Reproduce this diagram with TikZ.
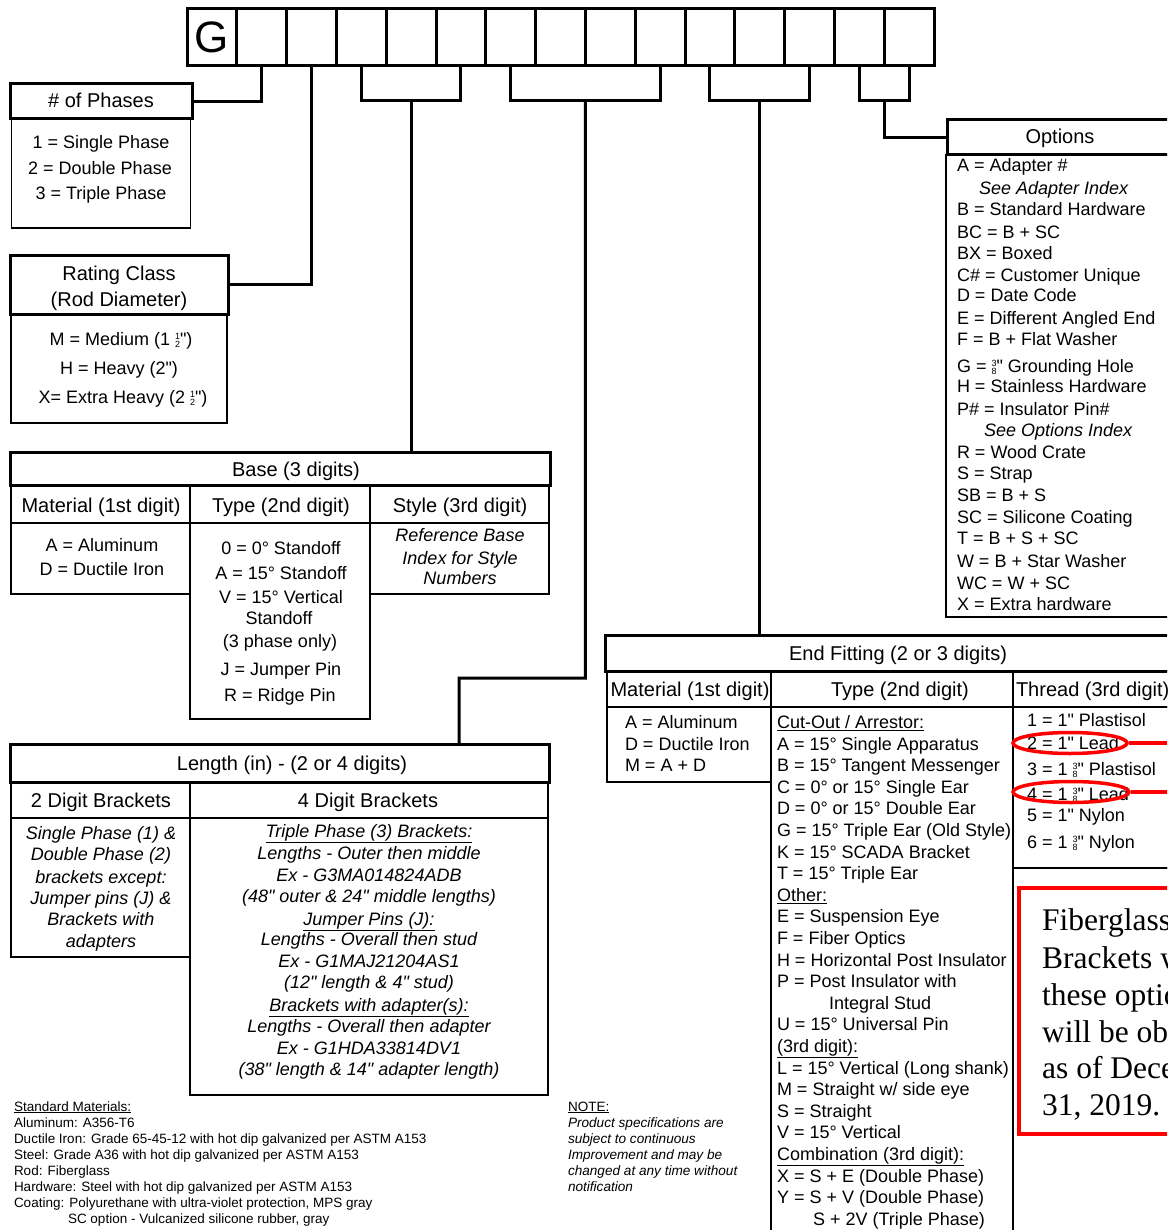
\documentclass[tikz,border=0pt]{standalone}
\usepackage{fontspec}
\setmainfont{Liberation Sans}[Ligatures=TeXOff]
\newfontfamily\serifnt{Liberation Serif}[Ligatures=TeXOff]
\usetikzlibrary{shapes.geometric}
\newcommand\fsz[1]{\fontsize{#1}{#1}\selectfont}
\newcommand\stfr[2]{\raisebox{-1.5pt}{\vbox{\fsz{9}\baselineskip=7.6pt\halign{\hfil##\hfil\cr#1\cr#2\cr}}}}
\begin{document}
\begin{tikzpicture}[x=1pt,y=-1pt,
  bx/.style={draw,rectangle,inner sep=0pt,outer sep=0pt,anchor=north west},
  hdr/.style={bx,line width=3pt},
  cbx/.style={bx,line width=1.4pt},
  cell/.style={bx,line width=3pt,minimum width=49.8pt,minimum height=57.4pt},
  conn/.style={line width=3pt},
  tc/.style={inner sep=0pt,outer sep=0pt,anchor=base,font=\fsz{18}},
  tci/.style={tc,font=\fsz{18}\itshape},
  tl/.style={inner sep=0pt,outer sep=0pt,anchor=base west,font=\fsz{18}},
  tli/.style={tl,font=\fsz{18}\itshape},
  th/.style={inner sep=0pt,outer sep=0pt,anchor=base,font=\fsz{20}},
  thl/.style={th,anchor=base west},
  tf/.style={inner sep=0pt,outer sep=0pt,anchor=base west,font=\fsz{13.5}},
  tfi/.style={tf,font=\fsz{13.6}\itshape},
  redl/.style={draw=red,line width=3.5pt},
  rtx/.style={inner sep=0pt,anchor=base west,font=\serifnt\fsz{31.5}},
]
\useasboundingbox (0,0) rectangle (1167,1230);
\clip (0,0) rectangle (1167,1230);

% ---------- code cells ----------
\foreach \i in {1,...,15}{\node[cell] (c\i) at ({187+(\i-1)*49.8},8.3) {};}
\node[inner sep=0pt,font=\fsz{44}] (gl) at (c1.center) {G};

% ---------- # of phases ----------
\node[cbx,minimum width=179pt,minimum height=109pt] (phc) at (11.5,119) {};
\node[hdr,minimum width=182pt,minimum height=35pt] (ph) at (10,84) {};
\draw[conn] (c2.south) |- (ph.east);
\node[th] (pht) at (101,108) {\# of Phases};
\node[tc] (ph1) at (101,148.5) {1 = Single Phase};
\node[tc] (ph2) at (100,174.5) {2 = Double Phase};
\node[tc] (ph3) at (101,199.5) {3 = Triple Phase};

% ---------- rating class ----------
\node[cbx,minimum width=216pt,minimum height=109pt] (rcc) at (11,314) {};
\node[hdr,minimum width=218pt,minimum height=58pt] (rc) at (10,256) {};
\draw[conn] (c3.south) |- (rc.east);
\node[th] (rct1) at (119,281) {Rating Class};
\node[th] (rct2) at (119,306) {(Rod Diameter)};
\node[tc] (rc1) at (121,345.5) {M = Medium (1 \stfr{1}{2}")};
\node[tc] (rc2) at (119,374.5) {H = Heavy (2")};
\node[tc] (rc3) at (123,403.5) {X= Extra Heavy (2 \stfr{1}{2}")};

% ---------- base ----------
\node[cbx,minimum width=179pt,minimum height=71pt] (bm) at (11,523) {};
\node[cbx,minimum width=180pt,minimum height=196pt] (bt) at (190,523) {};
\node[cbx,minimum width=179pt,minimum height=71pt] (bsty) at (370,523) {};
\node[cbx,minimum width=179pt,minimum height=38pt] (bs1) at (11,485) {};
\node[cbx,minimum width=180pt,minimum height=38pt] (bs2) at (190,485) {};
\node[cbx,minimum width=179pt,minimum height=38pt] (bs3) at (370,485) {};
\node[hdr,minimum width=540pt,minimum height=33pt] (base) at (10,452) {};
\path (c5.south) ++(0,35) coordinate (jb);
\draw[conn] (c4.south) |- (jb) -| (c6.south);
\draw[conn] (jb) -- (jb |- base.north);
\node[th] (bht) at (296,476) {Base (3 digits)};
\node[th] (bs1t) at (101,512) {Material (1st digit)};
\node[th] (bs2t) at (281,512) {Type (2nd digit)};
\node[th] (bs3t) at (460,512) {Style (3rd digit)};
\node[tc] (bm1) at (102,551.5) {A = Aluminum};
\node[tc] (bm2) at (102,575.5) {D = Ductile Iron};
\node[tc] (bt1) at (281,554.5) {0 = 0° Standoff};
\node[tc] (bt2) at (281,579.5) {A = 15° Standoff};
\node[tc] (bt3) at (281,603.5) {V = 15° Vertical};
\node[tc] (bt4) at (279,624.5) {Standoff};
\node[tc] (bt5) at (280,647.5) {(3 phase only)};
\node[tc] (bt6) at (281,675.5) {J = Jumper Pin};
\node[tc] (bt7) at (280,701.5) {R = Ridge Pin};
\node[tci] (by1) at (460,541.5) {Reference Base};
\node[tci] (by2) at (460,564.5) {Index for Style};
\node[tci] (by3) at (460,584.5) {Numbers};

% ---------- length ----------
\node[cbx,minimum width=179pt,minimum height=139pt] (lc1) at (11,818) {};
\node[cbx,minimum width=358pt,minimum height=277pt] (lc2) at (190,818) {};
\node[cbx,minimum width=179pt,minimum height=36pt] (ls1) at (11,782) {};
\node[cbx,minimum width=358pt,minimum height=36pt] (ls2) at (190,782) {};
\node[hdr,minimum width=539pt,minimum height=38pt] (len) at (10,744) {};
\path (c8.south east) ++(0,35) coordinate (jl);
\draw[conn] (c7.south) |- (jl) -| (c10.south);
\coordinate (lk1) at (585.4,678);
\coordinate (lk2) at (459,678);
\draw[conn] (jl) -- (lk1) -- (lk2) -- (lk2 |- len.north);
\node[th] (lht) at (292,770) {Length (in) - (2 or 4 digits)};
\node[th] (ls1t) at (101,807) {2 Digit Brackets};
\node[th] (ls2t) at (368,807) {4 Digit Brackets};
\node[tci] (la1) at (101,839.5) {Single Phase (1) \&};
\node[tci] (la2) at (101,860.5) {Double Phase (2)};
\node[tci] (la3) at (101,883.5) {brackets except:};
\node[tci] (la4) at (101,904.5) {Jumper pins (J) \&};
\node[tci] (la5) at (101,925.5) {Brackets with};
\node[tci] (la6) at (101,947.5) {adapters};
\node[tci] (lb1) at (369,837.5) {\underline{Triple Phase (3) Brackets:}};
\node[tci] (lb2) at (369,859.5) {Lengths - Outer then middle};
\node[tci] (lb3) at (369,881.5) {Ex - G3MA014824ADB};
\node[tci] (lb4) at (369,902.5) {(48" outer \& 24" middle lengths)};
\node[tci] (lb5) at (369,925.5) {\underline{Jumper Pins (J):}};
\node[tci] (lb6) at (369,945.5) {Lengths - Overall then stud};
\node[tci] (lb7) at (369,967.5) {Ex - G1MAJ21204AS1};
\node[tci] (lb8) at (369,988.5) {(12" length \& 4" stud)};
\node[tci] (lb9) at (369,1011.5) {\underline{Brackets with adapter(s):}};
\node[tci] (lb10) at (369,1032.5) {Lengths - Overall then adapter};
\node[tci] (lb11) at (369,1054.5) {Ex - G1HDA33814DV1};
\node[tci] (lb12) at (369,1075.5) {(38" length \& 14" adapter length)};

% ---------- options ----------
\node[cbx,minimum width=240pt,minimum height=462pt] (oc) at (946,155) {};
\node[hdr,minimum width=240pt,minimum height=35pt] (op) at (947,120) {};
\path (c14.south east) ++(0,35) coordinate (jo);
\draw[conn] (c14.south) |- (jo) -| (c15.south);
\draw[conn] (jo) |- (op.west);
\node[th] (opt) at (1060,144) {Options};
\node[tl] (o1) at (957,171.5) {A = Adapter \#};
\node[tli] (o2) at (979,194.5) {See Adapter Index};
\node[tl] (o3) at (957,215.5) {B = Standard Hardware};
\node[tl] (o4) at (957,238.5) {BC = B + SC};
\node[tl] (o5) at (957,259.5) {BX = Boxed};
\node[tl] (o6) at (957,281.5) {C\# = Customer Unique};
\node[tl] (o7) at (957,301.5) {D = Date Code};
\node[tl] (o8) at (957,324.5) {E = Different Angled End};
\node[tl] (o9) at (957,345.5) {F = B + Flat Washer};
\node[tl] (o10) at (957,372.5) {G = \stfr{3}{8}" Grounding Hole};
\node[tl] (o11) at (957,392.5) {H = Stainless Hardware};
\node[tl] (o12) at (957,415.5) {P\# = Insulator Pin\#};
\node[tli] (o13) at (984,436.5) {See Options Index};
\node[tl] (o14) at (957,458.5) {R = Wood Crate};
\node[tl] (o15) at (957,479.5) {S = Strap};
\node[tl] (o16) at (957,501.5) {SB = B + S};
\node[tl] (o17) at (957,523.5) {SC = Silicone Coating};
\node[tl] (o18) at (957,544.5) {T = B + S + SC};
\node[tl] (o19) at (957,567.5) {W = B + Star Washer};
\node[tl] (o20) at (957,589.5) {WC = W + SC};
\node[tl] (o21) at (957,610.5) {X = Extra hardware};

% ---------- end fitting ----------
\node[cbx,minimum width=164pt,minimum height=75pt] (em) at (607,707) {};
\node[cbx,minimum width=242pt,minimum height=540pt] (et) at (771,707) {};
\node[cbx,minimum width=180pt,minimum height=161pt] (eth) at (1013,707) {};
\node[cbx,minimum width=180pt,minimum height=380pt] (eb) at (1013,868) {};
\node[cbx,minimum width=164pt,minimum height=36pt] (es1) at (607,671) {};
\node[cbx,minimum width=242pt,minimum height=36pt] (es2) at (771,671) {};
\node[cbx,minimum width=180pt,minimum height=36pt] (es3) at (1013,671) {};
\node[hdr,minimum width=590pt,minimum height=36pt] (ef) at (605,635) {};
\path (c12.south) ++(0,35) coordinate (je);
\draw[conn] (c11.south) |- (je) -| (c13.south);
\draw[conn] (je) -- (je |- ef.north);
\node[th] (eft) at (898,660) {End Fitting (2 or 3 digits)};
\node[th] (es1t) at (690,696) {Material (1st digit)};
\node[th] (es2t) at (900,696) {Type (2nd digit)};
\node[thl] (es3t) at (1016,696) {Thread (3rd digit)};
\node[tl] (em1) at (625,728.5) {A = Aluminum};
\node[tl] (em2) at (625,750.5) {D = Ductile Iron};
\node[tl] (em3) at (625,771.5) {M = A + D};
\node[tl] (t0) at (777,728.5) {\underline{Cut-Out / Arrestor:}};
\node[tl] (t1) at (777,750.1) {A = 15° Single Apparatus};
\node[tl] (t2) at (777,771.7) {B = 15° Tangent Messenger};
\node[tl] (t3) at (777,793.3) {C = 0° or 15° Single Ear};
\node[tl] (t4) at (777,814.9) {D = 0° or 15° Double Ear};
\node[tl] (t5) at (777,836.5) {G = 15° Triple Ear (Old Style)};
\node[tl] (t6) at (777,858.1) {K = 15° SCADA Bracket};
\node[tl] (t7) at (777,879.7) {T = 15° Triple Ear};
\node[tl] (t8) at (777,901.3) {\underline{Other:}};
\node[tl] (t9) at (777,922.9) {E = Suspension Eye};
\node[tl] (t10) at (777,944.5) {F = Fiber Optics};
\node[tl] (t11) at (777,966.1) {H = Horizontal Post Insulator};
\node[tl] (t12) at (777,987.7) {P = Post Insulator with};
\node[tl] (t13) at (829,1009.3) {Integral Stud};
\node[tl] (t14) at (777,1030.9) {U = 15° Universal Pin};
\node[tl] (t15) at (777,1052.5) {\underline{(3rd digit):}};
\node[tl] (t16) at (777,1074.1) {L = 15° Vertical (Long shank)};
\node[tl] (t17) at (777,1095.7) {M = Straight w/ side eye};
\node[tl] (t18) at (777,1117.3) {S = Straight};
\node[tl] (t19) at (777,1138.9) {V = 15° Vertical};
\node[tl] (t20) at (777,1160.5) {\underline{Combination (3rd digit):}};
\node[tl] (t21) at (777,1182.1) {X = S + E (Double Phase)};
\node[tl] (t22) at (777,1203.7) {Y = S + V (Double Phase)};
\node[tl] (t23) at (813,1225.3) {S + 2V (Triple Phase)};
\node[tl] (h1) at (1027,726.5) {1 = 1" Plastisol};
\node[tl] (h2) at (1027,749.5) {2 = 1" Lead};
\node[tl] (h3) at (1027,775.5) {3 = 1 \stfr{3}{8}" Plastisol};
\node[tl] (h4) at (1027,800.5) {4 = 1 \stfr{3}{8}" Lead};
\node[tl] (h5) at (1027,821.5) {5 = 1" Nylon};
\node[tl] (h6) at (1027,848.5) {6 = 1 \stfr{3}{8}" Nylon};

% ---------- red marks ----------
\node[redl,ellipse,inner sep=0pt,minimum width=114pt,minimum height=21pt] (e1) at (1070,743) {};
\node[redl,ellipse,inner sep=0pt,minimum width=116pt,minimum height=21pt] (e2) at (1071,792) {};
\coordinate (r1) at (1180,743);
\coordinate (r2) at (1180,792);
\draw[redl] (e1.east) -- (r1);
\draw[redl] (e2.east) -- (r2);
\node[bx,draw=red,line width=4.5pt,minimum width=180pt,minimum height=246pt] (rb) at (1019,888) {};
\node[rtx] (rt1) at (1042,930) {Fiberglass};
\node[rtx] (rt2) at (1042,968) {Brackets with};
\node[rtx] (rt3) at (1042,1005) {these options};
\node[rtx] (rt4) at (1042,1042) {will be obsolete};
\node[rtx] (rt5) at (1042,1078) {as of December};
\node[rtx] (rt6) at (1042,1115) {31, 2019.};

% ---------- footer ----------
\node[tf] (f1) at (14,1111) {\underline{Standard Materials:}};
\node[tf] (f2) at (14,1127) {Aluminum: A356-T6};
\node[tf] (f3) at (14,1143) {Ductile Iron: Grade 65-45-12 with hot dip galvanized per ASTM A153};
\node[tf] (f4) at (14,1159) {Steel: Grade A36 with hot dip galvanized per ASTM A153};
\node[tf] (f5) at (14,1175) {Rod: Fiberglass};
\node[tf] (f6) at (14,1191) {Hardware: Steel with hot dip galvanized per ASTM A153};
\node[tf] (f7) at (14,1207) {Coating: Polyurethane with ultra-violet protection, MPS gray};
\node[tf] (f8) at (68,1223) {SC option - Vulcanized silicone rubber, gray};
\node[tf] (n1) at (568,1111) {\underline{NOTE:}};
\node[tfi] (n2) at (568,1127) {Product specifications are};
\node[tfi] (n3) at (568,1143) {subject to continuous};
\node[tfi] (n4) at (568,1159) {Improvement and may be};
\node[tfi] (n5) at (568,1175) {changed at any time without};
\node[tfi] (n6) at (568,1191) {notification};
\end{tikzpicture}
\end{document}
